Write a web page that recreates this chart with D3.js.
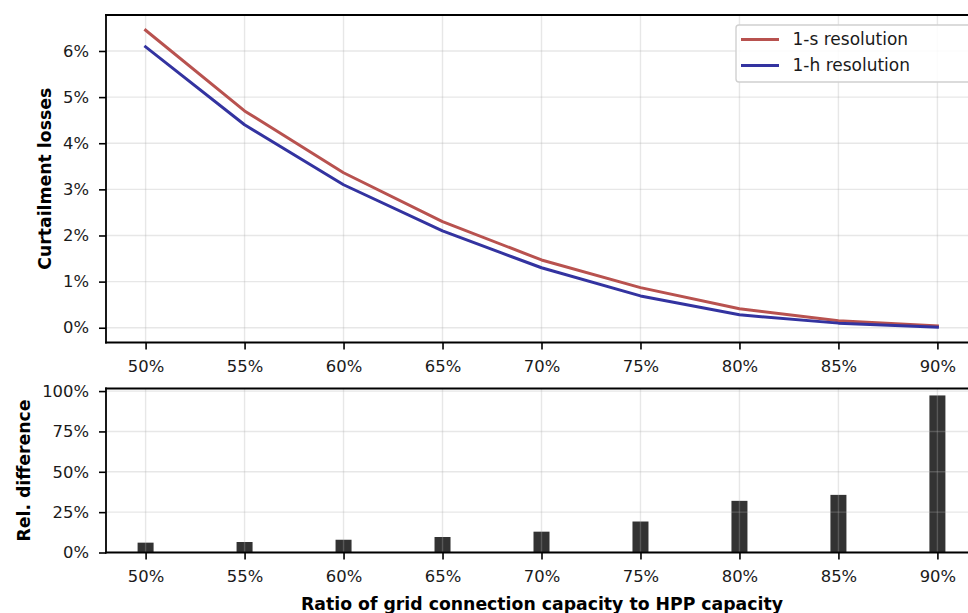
<!DOCTYPE html>
<html>
<head>
<meta charset="utf-8">
<script src="https://cdn.jsdelivr.net/npm/d3@7"></script>
<style>
  html, body { margin: 0; padding: 0; background: #fff; }
  svg { display: block; font-family: "DejaVu Sans", sans-serif; }
</style>
</head>
<body>
<svg id="chart" width="968" height="613"></svg>
<script>
// Grid connection ratio (% of HPP capacity)
const ratios = [50, 55, 60, 65, 70, 75, 80, 85, 90];
// Curtailment losses (%) at two time resolutions
const loss1s = [6.45, 4.70, 3.36, 2.30, 1.47, 0.87, 0.41, 0.15, 0.04];
const loss1h = [6.09, 4.40, 3.10, 2.10, 1.30, 0.69, 0.28, 0.10, 0.01];
// Relative difference between the two resolutions (%)
const relDiff = [6.1, 6.5, 7.9, 9.6, 12.9, 19.2, 32.0, 35.7, 97.3];
// Tick values
const lossTicks = [0, 1, 2, 3, 4, 5, 6];
const diffTicks = [0, 25, 50, 75, 100];
const seriesNames = ["1-s resolution", "1-h resolution"];
const seriesColors = ["#b8524f", "#3333a0"];

const svg = d3.select("#chart");
const W = 968;
const left = 106, right = 977;
const tickFont = 16.4, labelFont = 17.3, legendFont = 17;
const textColor = "#1a1a1a";
const gridColor = "#b0b0b0";

const x = d3.scaleLinear().domain([48, 92]).range([left, right]);

// panel geometry
const topPanel = { y0: 15, y1: 342.5 };
const botPanel = { y0: 388.5, y1: 552.5 };

const defs = svg.append("defs");
[["clipTop", topPanel], ["clipBot", botPanel]].forEach(([id, p]) => {
  defs.append("clipPath").attr("id", id)
    .append("rect").attr("x", left).attr("y", p.y0)
    .attr("width", right - left).attr("height", p.y1 - p.y0);
});

function addGrid(g, yScale, yTicks, p, clipId) {
  const grid = g.append("g").attr("clip-path", `url(#${clipId})`);
  grid.selectAll("line.gx").data(ratios).join("line").attr("class", "gx")
    .attr("x1", d => x(d)).attr("x2", d => x(d))
    .attr("y1", p.y0).attr("y2", p.y1)
    .attr("stroke", gridColor).attr("stroke-opacity", 0.3).attr("stroke-width", 1.4);
  grid.selectAll("line.gy").data(yTicks).join("line").attr("class", "gy")
    .attr("x1", left).attr("x2", right)
    .attr("y1", d => yScale(d)).attr("y2", d => yScale(d))
    .attr("stroke", gridColor).attr("stroke-opacity", 0.3).attr("stroke-width", 1.4);
}

function addAxes(g, yScale, yTicks, p) {
  g.append("g").attr("class", "ax").attr("transform", `translate(0,${p.y1})`)
    .call(d3.axisBottom(x).tickValues(ratios).tickFormat(d => d + "%")
      .tickSizeOuter(0).tickSize(7).tickPadding(10.5));
  g.append("g").attr("class", "ax").attr("transform", `translate(${left},0)`)
    .call(d3.axisLeft(yScale).tickValues(yTicks).tickFormat(d => d + "%")
      .tickSizeOuter(0).tickSize(7).tickPadding(10));
  // spines: left, bottom, top (right edge runs past the canvas)
  const sp = g.append("g").attr("stroke", "#000").attr("stroke-width", 1.8);
  sp.append("line").attr("x1", left).attr("x2", left).attr("y1", p.y0 - 0.9).attr("y2", p.y1 + 0.9);
  sp.append("line").attr("x1", left - 0.9).attr("x2", W).attr("y1", p.y1).attr("y2", p.y1);
  sp.append("line").attr("x1", left - 0.9).attr("x2", W).attr("y1", p.y0).attr("y2", p.y0);
}

// ---------- Top panel: curtailment losses ----------
const yTop = d3.scaleLinear().domain([-0.32, 6.78]).range([topPanel.y1, topPanel.y0]);
const gTop = svg.append("g");
addGrid(gTop, yTop, lossTicks, topPanel, "clipTop");

const line = d3.line().x((d, i) => x(ratios[i])).y(d => yTop(d));
const linesG = gTop.append("g").attr("clip-path", "url(#clipTop)");
[loss1s, loss1h].forEach((vals, k) => {
  linesG.append("path").datum(vals)
    .attr("d", line)
    .attr("fill", "none")
    .attr("stroke", seriesColors[k])
    .attr("stroke-width", 3)
    .attr("stroke-linejoin", "round")
    .attr("stroke-linecap", "square");
});
addAxes(gTop, yTop, lossTicks, topPanel);

gTop.append("text")
  .attr("transform", `translate(51,${(topPanel.y0 + topPanel.y1) / 2}) rotate(-90)`)
  .attr("text-anchor", "middle")
  .attr("font-weight", "bold").attr("font-size", labelFont).attr("fill", "#000")
  .text("Curtailment losses");

// legend
const leg = gTop.append("g").attr("transform", "translate(736,25)");
leg.append("rect").attr("x", 0).attr("y", 0).attr("width", 240).attr("height", 57)
  .attr("rx", 3).attr("fill", "#fff").attr("fill-opacity", 0.85)
  .attr("stroke", "#d0d0d0").attr("stroke-width", 1.4);
seriesNames.forEach((name, i) => {
  const yy = 14.5 + i * 26;
  leg.append("line").attr("x1", 5).attr("x2", 43).attr("y1", yy).attr("y2", yy)
    .attr("stroke", seriesColors[i]).attr("stroke-width", 3);
  leg.append("text").attr("x", 56.5).attr("y", yy).attr("dy", "0.35em")
    .attr("font-size", legendFont).attr("fill", textColor).text(name);
});

// ---------- Bottom panel: relative difference ----------
const yBot = d3.scaleLinear().domain([0, 101.6]).range([botPanel.y1, botPanel.y0]);
const gBot = svg.append("g");
const barW = 16;

gBot.append("g").attr("clip-path", "url(#clipBot)")
  .selectAll("rect").data(relDiff).join("rect")
  .attr("x", (d, i) => x(ratios[i]) - barW / 2)
  .attr("width", barW)
  .attr("y", d => yBot(d))
  .attr("height", d => yBot(0) - yBot(d))
  .attr("fill", "#333333");

addGrid(gBot, yBot, diffTicks, botPanel, "clipBot");
addAxes(gBot, yBot, diffTicks, botPanel);

gBot.append("text")
  .attr("transform", `translate(29.5,${(botPanel.y0 + botPanel.y1) / 2}) rotate(-90)`)
  .attr("text-anchor", "middle")
  .attr("font-weight", "bold").attr("font-size", labelFont).attr("fill", "#000")
  .text("Rel. difference");

gBot.append("text")
  .attr("x", 542).attr("y", 610)
  .attr("text-anchor", "middle")
  .attr("font-weight", "bold").attr("font-size", labelFont).attr("fill", "#000")
  .text("Ratio of grid connection capacity to HPP capacity");

// shared axis styling
svg.selectAll(".ax .domain").remove();
svg.selectAll(".ax .tick line").attr("stroke", "#000").attr("stroke-width", 1.6);
svg.selectAll(".ax .tick text").attr("font-size", tickFont).attr("fill", textColor)
  .attr("font-family", "DejaVu Sans, sans-serif");
</script>
</body>
</html>
